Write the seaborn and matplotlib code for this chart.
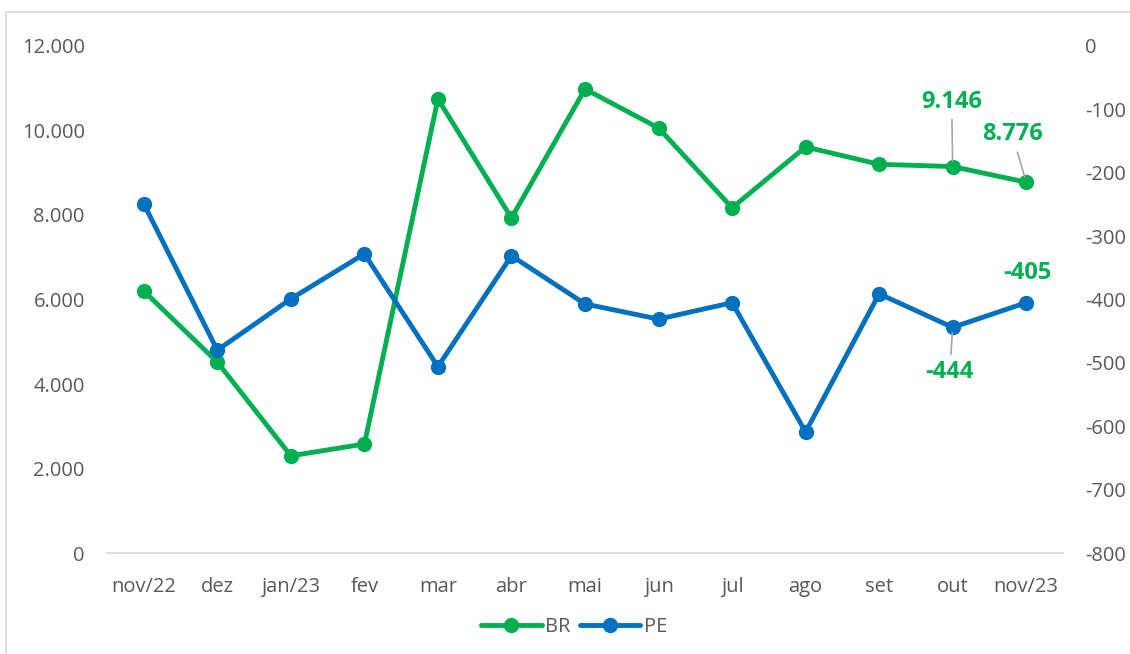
import matplotlib.pyplot as plt
import seaborn as sns
import pandas as pd
from matplotlib.patches import Rectangle

# data
meses = ["nov/22", "dez", "jan/23", "fev", "mar", "abr", "mai", "jun",
         "jul", "ago", "set", "out", "nov/23"]
br = [6200, 4520, 2300, 2580, 10745, 7930, 10980, 10060, 8170, 9610, 9200, 9146, 8776]
pe = [-249, -480, -399, -328, -506, -331, -407, -431, -405, -609, -391, -444, -405]

verde = "#00B050"
azul = "#0070C0"
cinza = "#595959"

sns.set_theme(style="white")
plt.rcParams['font.family'] = ['Open Sans', 'DejaVu Sans']

df = pd.DataFrame({"mes": meses, "BR": br, "PE": pe})

fig = plt.figure(figsize=(11.3, 6.54), dpi=100)
ax = fig.add_axes([0.0947, 0.1544, 0.846, 0.7753])
ax2 = ax.twinx()

sns.lineplot(data=df, x="mes", y="BR", ax=ax, color=verde, linewidth=3.5,
             marker="o", markersize=11, markeredgewidth=0, label="BR", legend=False)
sns.lineplot(data=df, x="mes", y="PE", ax=ax2, color=azul, linewidth=3.5,
             marker="o", markersize=11, markeredgewidth=0, label="PE", legend=False)

ax.set_xlim(-0.5, len(meses) - 0.5)
ax.set_ylim(0, 12000)
ax.set_yticks(range(0, 12001, 2000))
ax.set_yticklabels([f"{v:,}".replace(",", ".") for v in range(0, 12001, 2000)])
ax2.set_ylim(-800, 0)
ax2.set_yticks(range(-800, 1, 100))
ax2.set_yticklabels([str(v) for v in range(-800, 1, 100)])

for a in (ax, ax2):
    a.set_xlabel("")
    a.set_ylabel("")
    for s in a.spines.values():
        s.set_visible(False)
    a.tick_params(axis="both", length=0, labelsize=14.5, colors=cinza)
ax.spines["bottom"].set_visible(True)
ax.spines["bottom"].set_color("#D9D9D9")
ax.spines["bottom"].set_linewidth(1.2)
ax.tick_params(axis="x", pad=17)
ax.tick_params(axis="y", pad=16)
ax2.tick_params(axis="y", pad=16)

# rótulos de dados
lead = dict(arrowstyle="-", color="#A6A6A6", lw=1.2, shrinkA=2, shrinkB=4)
rot = dict(ha="center", va="center", color=verde, fontsize=17, fontweight="bold")
ax.annotate("9.146", xy=(11, br[11]), xytext=(-1, 65), textcoords="offset pixels",
            arrowprops=lead, **rot)
ax.annotate("8.776", xy=(12, br[12]), xytext=(-14, 48), textcoords="offset pixels",
            arrowprops=lead, **rot)
ax2.annotate("-405", xy=(12, pe[12]), xytext=(1, 30), textcoords="offset pixels", **rot)
ax2.annotate("-444", xy=(11, pe[11]), xytext=(-3, -45), textcoords="offset pixels",
             arrowprops=lead, **rot)

h1, l1 = ax.get_legend_handles_labels()
h2, l2 = ax2.get_legend_handles_labels()
leg = fig.legend(h1 + h2, l1 + l2, loc="center", bbox_to_anchor=(0.508, 0.041),
                 ncol=2, frameon=False, fontsize=14.5, handlelength=3.0,
                 columnspacing=0.5, handletextpad=0.15)
for t in leg.get_texts():
    t.set_color(cinza)

# moldura do gráfico
fig.patches.append(Rectangle((6 / 1130, -0.05), 1.1, 1 - 12 / 654 + 0.05,
                             transform=fig.transFigure, fill=False,
                             edgecolor="#D9D9D9", linewidth=1.2))

fig.savefig("out.png", dpi=100)
